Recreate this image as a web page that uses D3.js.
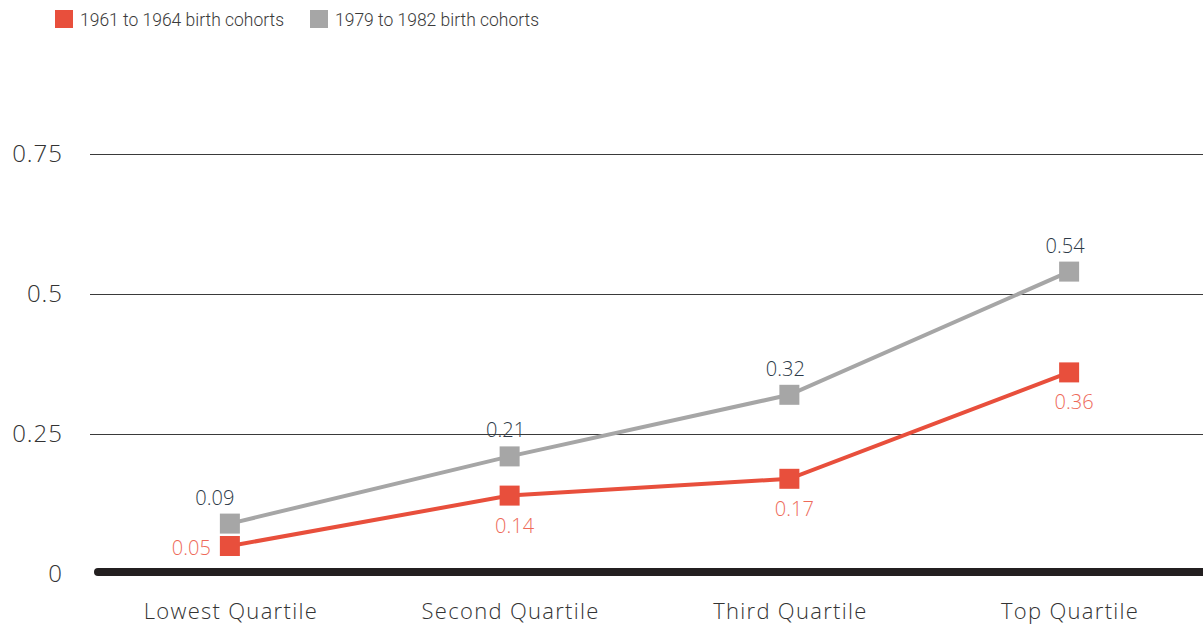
<!DOCTYPE html>
<html>
<head>
<meta charset="utf-8">
<script src="https://cdn.jsdelivr.net/npm/d3@7"></script>
<style>
  html, body { margin: 0; padding: 0; background: #fff; }
  svg { display: block; }
</style>
</head>
<body>
<svg id="chart" width="1203" height="626"></svg>
<script>
// Quartile categories along the x axis
const categories = ["Lowest Quartile", "Second Quartile", "Third Quartile", "Top Quartile"];
// Series values
const cohort1961 = [0.05, 0.14, 0.17, 0.36];
const cohort1979 = [0.09, 0.21, 0.32, 0.54];
const seriesNames = ["1961 to 1964 birth cohorts", "1979 to 1982 birth cohorts"];
// Y axis ticks
const yTicks = [0, 0.25, 0.5, 0.75];
const yTickLabels = ["0", "0.25", "0.5", "0.75"];

const W = 1203, H = 626;
const svg = d3.select("#chart");
const font = "'Open Sans', Lato, sans-serif";

const x = d3.scaleBand().domain(categories).range([90, 1209]).padding(0);
const y = d3.scaleLinear().domain([0, 0.75]).range([574, 154]);
const cx = c => x(c) + x.bandwidth() / 2;

const RED = "#e84f3c", GRAY = "#a6a6a6";
const RED_TXT = "#ee6a59", GRAY_TXT = "#2d3a48";

// Gridlines (non-zero ticks)
svg.append("g").selectAll("line")
  .data(yTicks.filter(t => t > 0))
  .join("line")
  .attr("x1", 90).attr("x2", W)
  .attr("y1", d => Math.round(y(d)) + 0.5).attr("y2", d => Math.round(y(d)) + 0.5)
  .attr("stroke", "#3a3a3a").attr("stroke-width", 1);

// Heavy zero baseline
svg.append("line")
  .attr("x1", 98).attr("x2", W + 10)
  .attr("y1", y(0) - 2).attr("y2", y(0) - 2)
  .attr("stroke", "#231f20").attr("stroke-width", 8)
  .attr("stroke-linecap", "round");

// Y axis labels
svg.append("g").selectAll("text")
  .data(yTicks)
  .join("text")
  .attr("x", 63).attr("y", d => y(d) + 8)
  .attr("text-anchor", "end")
  .attr("font-family", font).attr("font-size", 24).attr("font-weight", 300)
  .attr("letter-spacing", 1)
  .attr("fill", "#333")
  .text((d, i) => yTickLabels[i]);

// X axis labels
svg.append("g").selectAll("text")
  .data(categories)
  .join("text")
  .attr("x", d => cx(d) + 1).attr("y", 619)
  .attr("text-anchor", "middle")
  .attr("font-family", font).attr("font-size", 22).attr("font-weight", 300)
  .attr("letter-spacing", 1.3)
  .attr("fill", "#333")
  .text(d => d);

const line = d3.line().x((d, i) => cx(categories[i])).y(d => y(d));

function drawSeries(values, color) {
  const g = svg.append("g");
  g.append("path").datum(values)
    .attr("d", line).attr("fill", "none")
    .attr("stroke", color).attr("stroke-width", 4);
  g.selectAll("rect").data(values).join("rect")
    .attr("x", (d, i) => cx(categories[i]) - 10)
    .attr("y", d => y(d) - 10)
    .attr("width", 20).attr("height", 20)
    .attr("fill", color);
  return g;
}

drawSeries(cohort1979, GRAY);
drawSeries(cohort1961, RED);

// Value labels: later cohort above its markers
svg.append("g").selectAll("text").data(cohort1979).join("text")
  .attr("x", (d, i) => cx(categories[i]) + (i === 0 ? -15 : -4))
  .attr("y", d => y(d) - 19)
  .attr("text-anchor", "middle")
  .attr("font-family", font).attr("font-size", 20).attr("font-weight", 300)
  .attr("fill", GRAY_TXT)
  .text(d => d3.format(".2f")(d));

// Earlier cohort below its markers (first one to the left)
svg.append("g").selectAll("text").data(cohort1961).join("text")
  .attr("x", (d, i) => i === 0 ? cx(categories[i]) - 19 : cx(categories[i]) + 5)
  .attr("y", (d, i) => i === 0 ? y(d) + 9 : y(d) + 37)
  .attr("text-anchor", (d, i) => i === 0 ? "end" : "middle")
  .attr("font-family", font).attr("font-size", 20).attr("font-weight", 300)
  .attr("fill", RED_TXT)
  .text(d => d3.format(".2f")(d));

// Legend
const legend = svg.append("g");
const legendX = [55, 310];
const legendColors = [RED, GRAY];
seriesNames.forEach((name, i) => {
  legend.append("rect")
    .attr("x", legendX[i]).attr("y", 10)
    .attr("width", 18).attr("height", 18)
    .attr("fill", legendColors[i]);
  legend.append("text")
    .attr("x", legendX[i] + 25).attr("y", 26)
    .attr("font-family", "Roboto, sans-serif").attr("font-size", 19).attr("font-weight", 300)
    .attr("textLength", 204).attr("lengthAdjust", "spacingAndGlyphs")
    .attr("fill", "#3a3a3a")
    .text(name);
});
</script>
</body>
</html>
